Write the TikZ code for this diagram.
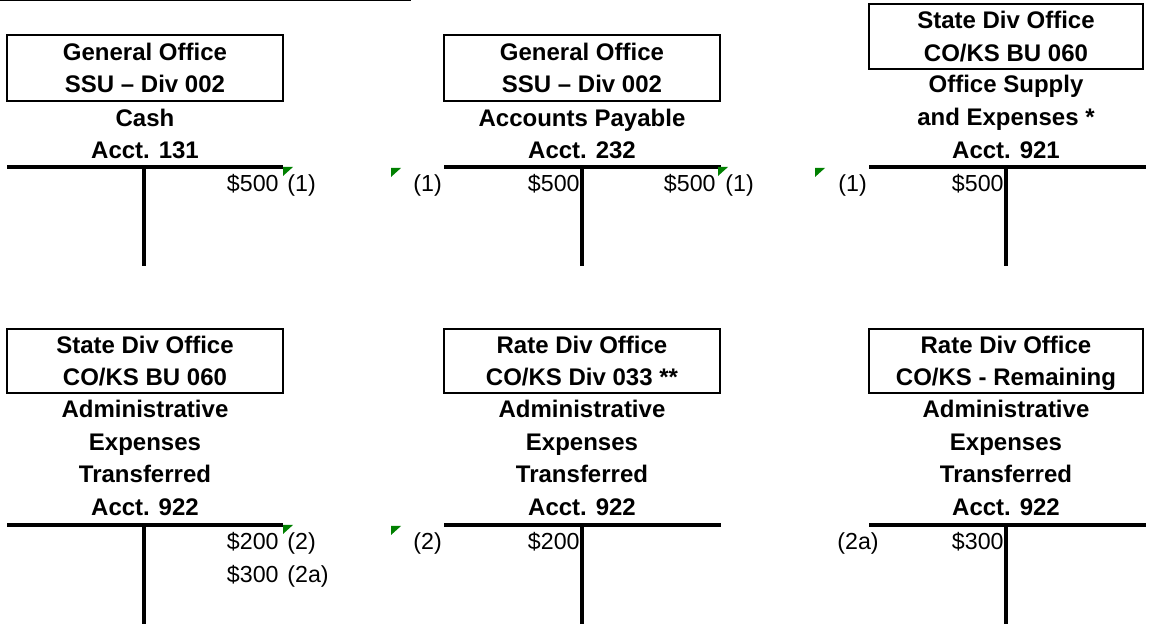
\documentclass[tikz,border=0pt]{standalone}
\usepackage{fontspec}
\setmainfont{Liberation Sans}
\usepackage{xcolor}
\usepackage{tikz}
\definecolor{commentgreen}{RGB}{0,128,0}

\begin{document}
\begin{tikzpicture}[x=0.5pt, y=-0.5pt,
    heading/.style={font=\bfseries\fontsize{12}{16.3}\selectfont, align=center, inner sep=0pt},
    officebox/.style={heading, draw, line width=1pt, minimum width=138pt, minimum height=33pt},
    amount/.style={font=\fontsize{11.6}{14}\selectfont, inner sep=0pt},
    tline/.style={line width=2pt},
    comment/.style={fill=commentgreen}]
    \useasboundingbox (0,0) rectangle (1152,624);
    \draw[line width=0.75pt] (0,0.75) -- (411,0.75);
    % top row
    \node[officebox] (goCash) at (145,68) {General Office\\SSU – Div 002};
    \node[heading] (cash) at (145,134) {Cash\\Acct. 131};
    \draw[tline] (7,167) -- (283,167);
    \draw[tline] (144,167) -- (144,266);
    \node[amount, anchor=base east] (cashCr) at (279,192) {\$500};
    \node[amount, anchor=base west] (cashRef) at (287,192) {(1)};
    \fill[comment] (283,167) -- ++(10,0) -- ++(-10,9) -- cycle;

    \node[officebox] (goAP) at (582,68) {General Office\\SSU – Div 002};
    \node[heading] (ap) at (582,134) {Accounts Payable\\Acct. 232};
    \draw[tline] (444,167) -- (721,167);
    \draw[tline] (582,167) -- (582,266);
    \node[amount, anchor=base west] (apDrRef) at (413,192) {(1)};
    \node[amount, anchor=base east] (apDr) at (580,192) {\$500};
    \node[amount, anchor=base east] (apCr) at (716,192) {\$500};
    \node[amount, anchor=base west] (apCrRef) at (725,192) {(1)};
    \fill[comment] (391,168) -- ++(10,0) -- ++(-10,9) -- cycle;
    \fill[comment] (718,167) -- ++(10,0) -- ++(-10,9) -- cycle;

    \node[officebox, minimum width=137pt, minimum height=32.5pt] (sdoSupply) at (1006,36.5) {State Div Office\\CO/KS BU 060};
    \node[heading] (supply) at (1006,117) {Office Supply\\and Expenses *\\Acct. 921};
    \draw[tline] (869,167) -- (1146,167);
    \draw[tline] (1006,167) -- (1006,266);
    \node[amount, anchor=base west] (supplyRef) at (838,192) {(1)};
    \node[amount, anchor=base east] (supplyDr) at (1004,192) {\$500};
    \fill[comment] (815,168) -- ++(10,0) -- ++(-10,9) -- cycle;

    % bottom row
    \node[officebox, minimum height=32pt] (sdoAdmin) at (145,361) {State Div Office\\CO/KS BU 060};
    \node[heading] (sdoAcct) at (145,458) {Administrative\\Expenses\\Transferred\\Acct. 922};
    \draw[tline] (7,525) -- (283,525);
    \draw[tline] (144,525) -- (144,626);
    \node[amount, anchor=base east] (sdoCrA) at (279,550) {\$200};
    \node[amount, anchor=base west] (sdoRefA) at (287,550) {(2)};
    \node[amount, anchor=base east] (sdoCrB) at (279,583) {\$300};
    \node[amount, anchor=base west] (sdoRefB) at (287,583) {(2a)};
    \fill[comment] (283,525) -- ++(10,0) -- ++(-10,9) -- cycle;

    \node[officebox, minimum height=32pt] (rdoDiv) at (582,361) {Rate Div Office\\CO/KS Div 033 **};
    \node[heading] (rdoDivAcct) at (582,458) {Administrative\\Expenses\\Transferred\\Acct. 922};
    \draw[tline] (444,525) -- (721,525);
    \draw[tline] (582,525) -- (582,626);
    \node[amount, anchor=base west] (rdoDivRef) at (413,550) {(2)};
    \node[amount, anchor=base east] (rdoDivDr) at (580,550) {\$200};
    \fill[comment] (391,526) -- ++(10,0) -- ++(-10,9) -- cycle;

    \node[officebox, minimum width=137pt, minimum height=32pt] (rdoRest) at (1006,361) {Rate Div Office\\\raisebox{0pt}[\height][0pt]{CO/KS - Remaining}};
    \node[heading] (rdoRestAcct) at (1006,458) {Administrative\\Expenses\\Transferred\\Acct. 922};
    \draw[tline] (869,525) -- (1146,525);
    \draw[tline] (1006,525) -- (1006,626);
    \node[amount, anchor=base west] (rdoRestRef) at (837,550) {(2a)};
    \node[amount, anchor=base east] (rdoRestDr) at (1004,550) {\$300};
\end{tikzpicture}
\end{document}
